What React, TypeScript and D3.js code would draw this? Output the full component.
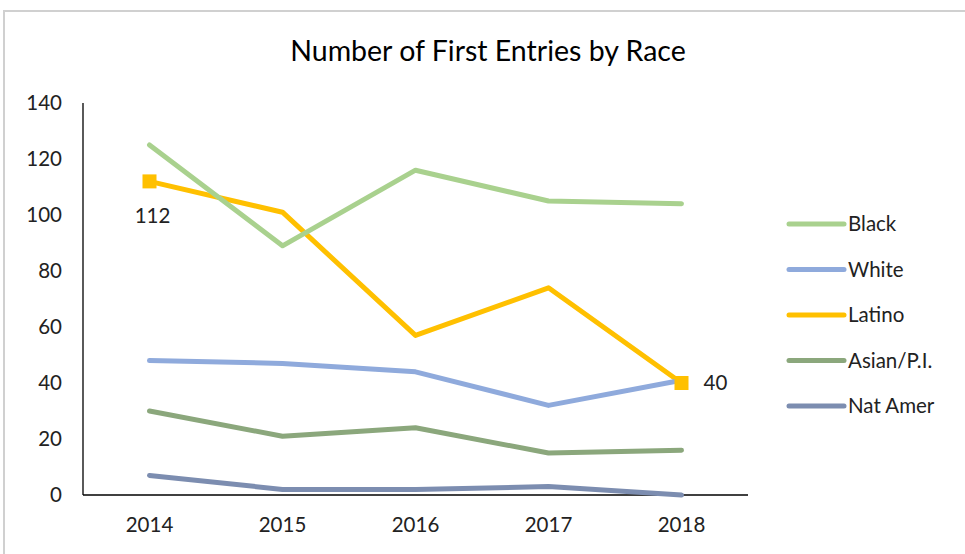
import React from 'react';
import * as d3 from 'd3';

const width = 965, height = 554;
const margin = { top: 103, left: 83, right: 217, bottom: 59 };

// chart data
const years = ['2014', '2015', '2016', '2017', '2018'];
const black = [125, 89, 116, 105, 104];
const white = [48, 47, 44, 32, 41];
const latino = [112, 101, 57, 74, 40];
const asian = [30, 21, 24, 15, 16];
const natAmer = [7, 2, 2, 3, 0];
const yTicks = [0, 20, 40, 60, 80, 100, 120, 140];

const series = [
    { name: 'Black', values: black, color: '#A9D18E' },
    { name: 'White', values: white, color: '#8FAADC' },
    { name: 'Latino', values: latino, color: '#FFC000' },
    { name: 'Asian/P.I.', values: asian, color: '#8BA77C' },
    { name: 'Nat Amer', values: natAmer, color: '#7C8DB0' },
];

const font = "Lato, sans-serif";
const fs = 20.5;

export default function App() {
    const xScale = d3.scaleBand<string>()
        .domain(years)
        .range([margin.left, width - margin.right]);
    const yScale = d3.scaleLinear()
        .domain([0, 140])
        .range([height - margin.bottom, margin.top]);
    const cx = (y: string) => (xScale(y) as number) + xScale.bandwidth() / 2;

    const line = d3.line<number>()
        .x((d, i) => cx(years[i]))
        .y(d => yScale(d));

    // draw order: last series at the bottom
    const drawOrder = [...series].reverse();
    const latinoFirst = latino[0], latinoLast = latino[latino.length - 1];

    return (
        <svg width={width} height={height} style={{ position: 'absolute', left: 0, top: 0 }}>
            <rect x={0} y={0} width={width} height={height} fill="#fff" />
            <rect x={4} y={11} width={width + 10} height={height + 10} fill="none" stroke="#D0D0D0" strokeWidth={2} />
            <text x={488} y={61} textAnchor="middle" fontFamily={font} fontSize={28.5} fill="#000">
                Number of First Entries by Race
            </text>

            {/* y axis */}
            <line x1={margin.left} x2={margin.left} y1={yScale(140)} y2={yScale(0)} stroke="#000" strokeWidth={1.3} />
            {yTicks.map(t => (
                <text key={t} x={62} y={yScale(t)} dy="0.35em" textAnchor="end" fontFamily={font} fontSize={fs} fill="#222">{t}</text>
            ))}

            {/* x axis */}
            <line x1={margin.left} x2={width - margin.right} y1={yScale(0)} y2={yScale(0)} stroke="#000" strokeWidth={1.3} />
            {years.map(y => (
                <text key={y} x={cx(y)} y={532} textAnchor="middle" fontFamily={font} fontSize={fs} fill="#222">{y}</text>
            ))}

            {drawOrder.map(s => (
                <path key={s.name} d={line(s.values) || ''} fill="none" stroke={s.color} strokeWidth={5} strokeLinecap="round" strokeLinejoin="round" />
            ))}

            {/* latino end markers and labels */}
            <rect x={cx(years[0]) - 7} y={yScale(latinoFirst) - 7} width={14} height={14} fill="#FFC000" />
            <rect x={cx(years[4]) - 7} y={yScale(latinoLast) - 7} width={14} height={14} fill="#FFC000" />
            <text x={cx(years[0]) + 3} y={yScale(latinoFirst) + 42} textAnchor="middle" fontFamily={font} fontSize={fs} fill="#222">{latinoFirst}</text>
            <text x={cx(years[4]) + 22} y={yScale(latinoLast)} dy="0.35em" fontFamily={font} fontSize={fs} fill="#222">{latinoLast}</text>

            {/* legend */}
            {series.map((s, i) => (
                <g key={s.name} transform={`translate(789, ${224 + i * 45.5})`}>
                    <line x1={0} x2={55} y1={0} y2={0} stroke={s.color} strokeWidth={5} strokeLinecap="round" />
                    <text x={59} y={0} dy="0.35em" fontFamily={font} fontSize={fs} fill="#222">{s.name}</text>
                </g>
            ))}
        </svg>
    );
}
